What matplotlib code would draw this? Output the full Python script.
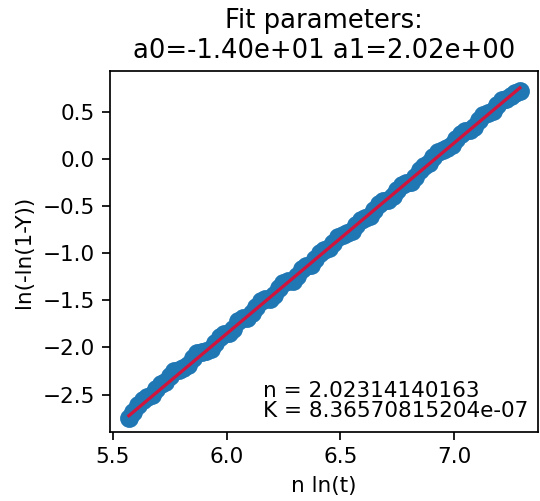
import matplotlib
matplotlib.use("Agg")
import matplotlib.pyplot as plt
import numpy as np

# Data
x_vals = [5.57, 5.59, 5.61, 5.63, 5.65, 5.67, 5.69, 5.71, 5.73, 5.75,
          5.77, 5.79, 5.81, 5.83, 5.85, 5.87, 5.89, 5.91, 5.93, 5.95,
          5.97, 5.99, 6.01, 6.03, 6.05, 6.07, 6.09, 6.11, 6.13, 6.15,
          6.17, 6.19, 6.21, 6.23, 6.25, 6.27, 6.29, 6.31, 6.33, 6.35,
          6.37, 6.39, 6.41, 6.43, 6.45, 6.47, 6.49, 6.51, 6.53, 6.55,
          6.57, 6.59, 6.61, 6.63, 6.65, 6.67, 6.69, 6.71, 6.73, 6.75,
          6.77, 6.79, 6.81, 6.83, 6.85, 6.87, 6.89, 6.91, 6.93, 6.95,
          6.97, 6.99, 7.01, 7.03, 7.05, 7.07, 7.09, 7.11, 7.13, 7.15,
          7.17, 7.19, 7.21, 7.23, 7.25, 7.27, 7.29]
y_vals = [-2.745, -2.685, -2.61, -2.56, -2.53, -2.50, -2.44, -2.39, -2.37, -2.30,
          -2.25, -2.24, -2.22, -2.19, -2.11, -2.06, -2.05, -2.04, -2.02, -1.95,
          -1.89, -1.86, -1.85, -1.80, -1.72, -1.69, -1.69, -1.64, -1.57, -1.51,
          -1.49, -1.49, -1.44, -1.37, -1.32, -1.30, -1.29, -1.24, -1.17, -1.14,
          -1.12, -1.06, -1.00, -0.97, -0.95, -0.89, -0.83, -0.81, -0.79, -0.76,
          -0.70, -0.65, -0.63, -0.60, -0.54, -0.48, -0.45, -0.44, -0.39, -0.33,
          -0.28, -0.26, -0.24, -0.19, -0.12, -0.07, -0.04, 0.02, 0.07, 0.10,
          0.12, 0.15, 0.21, 0.27, 0.30, 0.31, 0.34, 0.41, 0.47, 0.49,
          0.51, 0.57, 0.63, 0.64, 0.67, 0.70, 0.72]

a0 = -13.994
a1 = 2.02314140163
n_value = "2.02314140163"
K_value = "8.36570815204e-07"
title_text = "Fit parameters:\na0=-1.40e+01 a1=2.02e+00"

plt.rcParams['font.family'] = ['DejaVu Sans']

DPI = 155
fig = plt.figure(figsize=(540 / DPI, 501 / DPI), dpi=DPI)
ax = fig.add_axes([110/540, 1 - 432/501, 428/540, 361/501])

x_arr = np.array(x_vals)
ax.scatter(x_arr, y_vals, s=60, color='#1f77b4', zorder=2)
ax.plot(x_arr, a0 + a1 * x_arr, color='#d0143c', lw=1.5, zorder=3)

ax.set_xlim(5.487, 7.37)
ax.set_ylim(-2.898, 0.934)
ax.set_xticks([5.5, 6.0, 6.5, 7.0])
ax.set_yticks([-2.5, -2.0, -1.5, -1.0, -0.5, 0.0, 0.5])

ax.set_xlabel("n ln(t)")
ax.set_ylabel("ln(-ln(1-Y))")
ax.set_title(title_text)

ax.text(0.357, 0.03, "n = " + n_value + "\nK = " + K_value,
        transform=ax.transAxes, ha='left', va='bottom', linespacing=1.0)

fig.savefig("out.png", dpi=DPI)
